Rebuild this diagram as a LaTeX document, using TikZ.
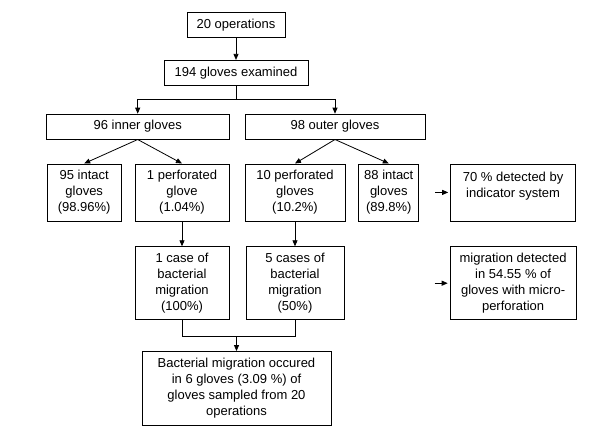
\documentclass[tikz,border=0pt]{standalone}
\usepackage{fontspec}
\setmainfont{Liberation Sans}
\usetikzlibrary{arrows.meta,positioning,calc}
\tikzset{
	%Define standard arrow tip
	>={Triangle[length=6pt,width=5pt]},
	%Define style for boxes
	kasse/.style={
		rectangle,
		draw=black, line width=0.8pt,
		align=center,
		inner sep=1pt,
		font=\fontsize{13}{16}\selectfont},
	% Define arrow style
	pil/.style={
		->,
		line width=0.8pt},
	% Define plain line style
	linje/.style={line width=0.8pt}
}
\begin{document}
\begin{tikzpicture}[x=1pt,y=-1pt]
		\useasboundingbox (0,0) rectangle (600,432);
		% node 20 operations
		\node[kasse, minimum width=98pt, minimum height=25pt] (ops) at (236,25) {20 operations};
		% node 194 gloves
		\node[kasse, minimum width=144pt, minimum height=25pt, below=22pt of ops] (exam) {194 gloves examined};
		% node inner / outer gloves
		\node[kasse, minimum width=183pt, minimum height=25pt, below left=28pt and -66pt of exam] (inner) {96 inner gloves};
		\node[kasse, minimum width=180pt, minimum height=25pt, right=15pt of inner] (outer) {98 outer gloves};
		% row of glove states
		\node[kasse, minimum width=74pt, minimum height=57pt, below right=24pt and 1pt of inner.south west] (intact95) {95 intact\\ gloves\\ (98.96\%)};
		\node[kasse, minimum width=94pt, minimum height=57pt, right=13pt of intact95] (perf1) {1 perforated\\ glove\\ (1.04\%)};
		\node[kasse, minimum width=100pt, minimum height=57pt, below right=24pt and 0pt of outer.south west] (perf10) {10 perforated\\ gloves\\ (10.2\%)};
		\node[kasse, minimum width=60pt, minimum height=57pt, right=13pt of perf10] (intact88) {88 intact\\ gloves\\ (89.8\%)};
		\node[kasse, minimum width=125pt, minimum height=57pt, right=31pt of intact88] (det70) {70 \% detected by\\ indicator system\\ \phantom{x}};
		% row of migration cases
		\node[kasse, minimum width=94pt, minimum height=73pt, below=25pt of perf1] (case1) {1 case of\\ bacterial\\ migration\\ (100\%)};
		\node[kasse, minimum width=98pt, minimum height=73pt, below=25pt of perf10] (case5) {5 cases of\\ bacterial\\ migration\\ (50\%)};
		\node[kasse, minimum width=126pt, minimum height=73pt, below=25pt of det70] (mig) {migration detected\\ in 54.55 \% of\\ gloves with micro-\\ perforation};
		% node result
		\coordinate (join) at ($($(case1.south)!0.5!(case5.south)$)+(-2pt,-16pt)$);
		\node[kasse, minimum width=189pt, minimum height=74pt, below=15pt of join] (final) {Bacterial migration occured\\ in 6 gloves (3.09 \%) of\\ gloves sampled from 20\\ operations};
		% free arrow ends
		\coordinate[left=15pt of det70] (in70);
		\coordinate[left=15pt of mig] (inmig);
		\coordinate[below=14pt of exam] (split);
		\draw[pil]   (ops) -- (exam);
		\draw[linje] (exam) -- (split);
		\draw[pil]   (split) -| (inner);
		\draw[pil]   (split) -| (outer);
		\draw[pil]   (inner.south) -- (intact95.north);
		\draw[pil]   (inner.south) -- (perf1.north);
		\draw[pil]   (outer.south) -- (perf10.north);
		\draw[pil]   (outer.south) -- (intact88.north);
		\draw[pil]   (perf1) -- (case1);
		\draw[pil]   (perf10) -- (case5);
		\draw[linje] (case1.south) |- (join) -| (case5.south);
		\draw[pil]   (join) -- (final);
		\draw[pil, shorten >=2pt] (in70) -- (det70);
		\draw[pil, shorten >=2pt] (inmig) -- (mig);
	\end{tikzpicture}
\end{document}
